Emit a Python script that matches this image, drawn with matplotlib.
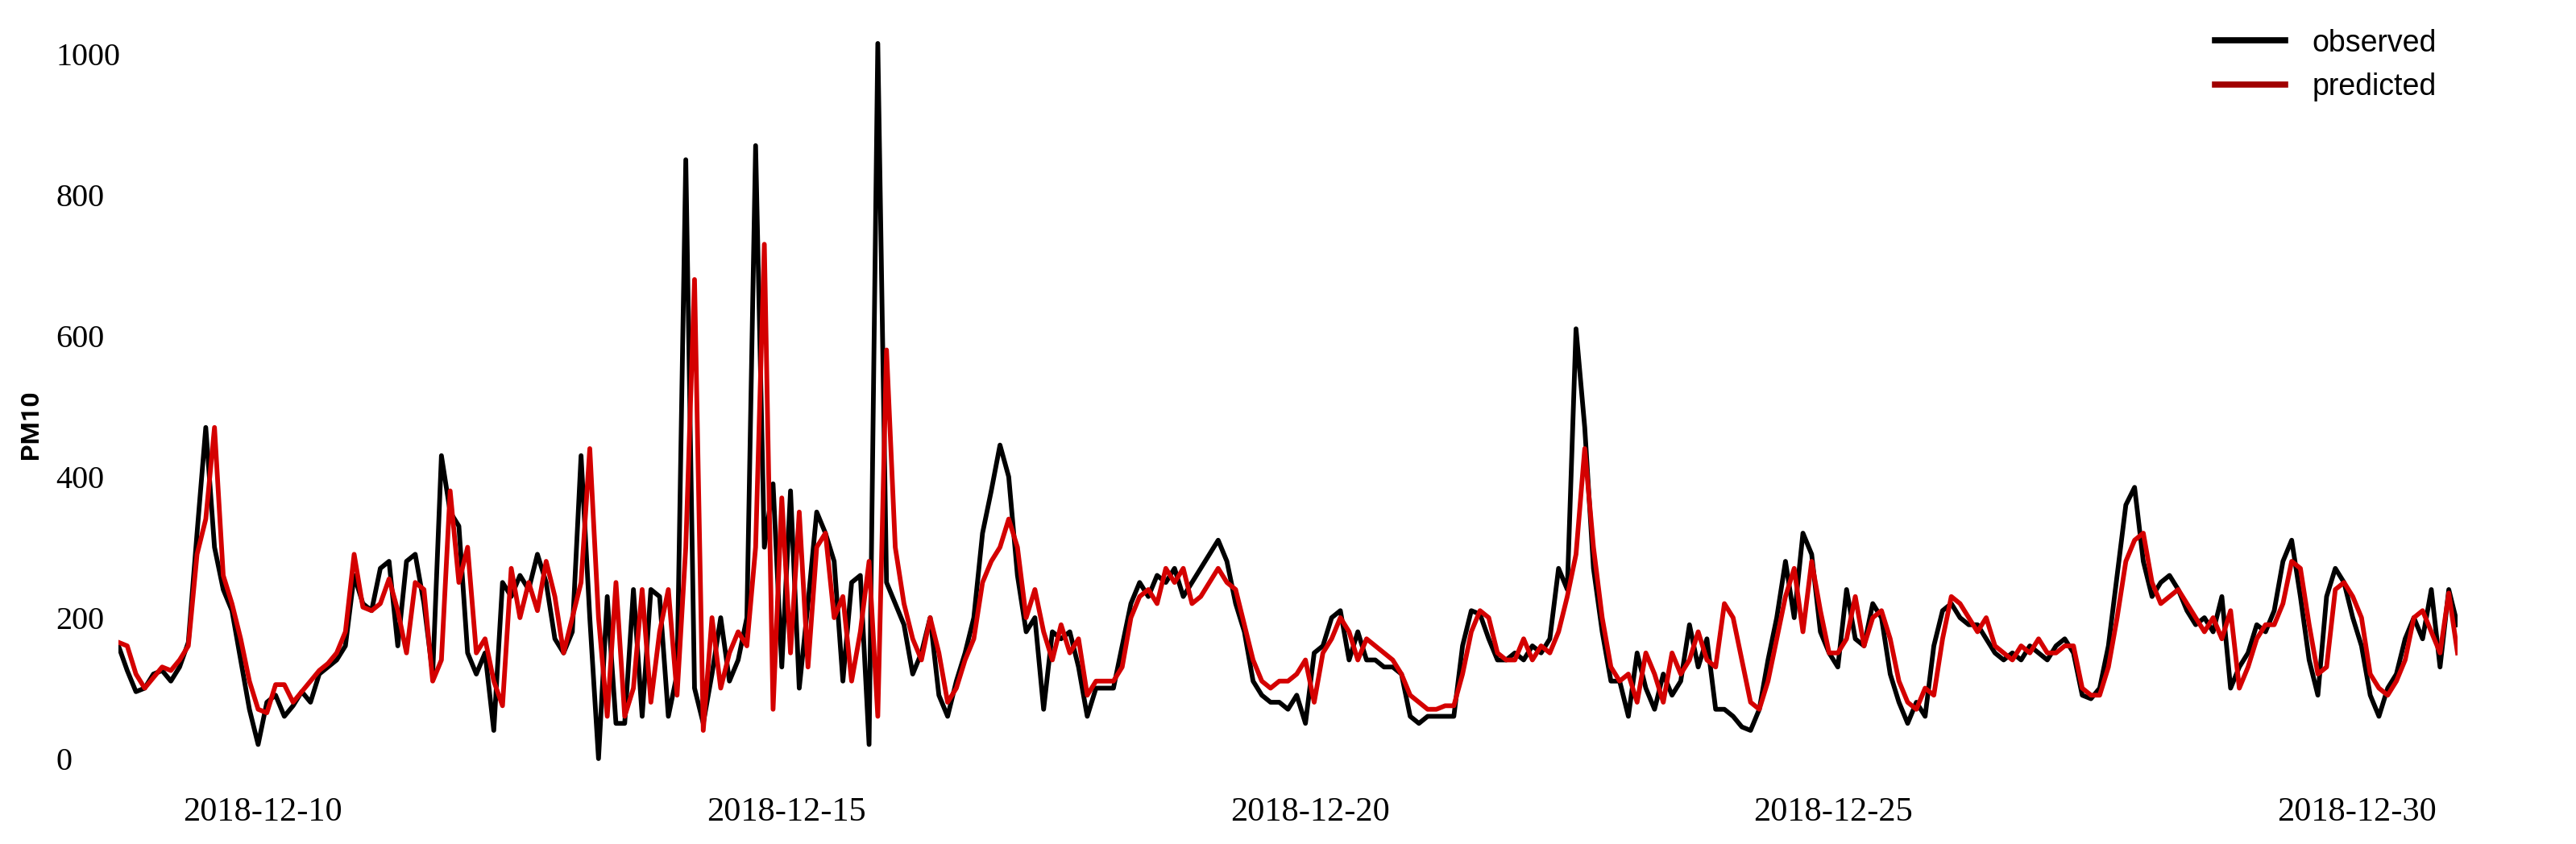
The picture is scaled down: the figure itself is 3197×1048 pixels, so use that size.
import matplotlib
matplotlib.use("Agg")
import matplotlib.pyplot as plt
import matplotlib.dates as mdates
import pandas as pd

start_time = "2018-12-08 15:00"
step = "2h"

observed = [
    160, 125, 95, 100, 120,
    125, 110, 130, 165, 320, 470, 300, 240, 210, 140, 70, 20,
    80, 90, 60, 75, 95, 80, 120, 130, 140, 160, 260, 220,
    210, 270, 280, 160, 280, 290, 220, 120, 430, 350, 330, 150,
    120, 150, 40, 250, 230, 260, 240, 290, 250, 170, 150, 180,
    430, 200, 0, 230, 50, 50, 240, 60, 240, 230, 60, 120,
    850, 100, 50, 120, 200, 110, 140, 200, 870, 300, 390, 130,
    380, 100, 220, 350, 320, 280, 110, 250, 260, 20, 1015, 250,
    220, 190, 120, 150, 200, 90, 60, 110, 150, 200, 320, 380,
    445, 400, 260, 180, 200, 70, 180, 170, 180, 130, 60, 100,
    100, 100, 160, 220, 250, 230, 260, 250, 270, 230, 250, 270,
    290, 310, 280, 220, 180, 110, 90, 80, 80, 70, 90, 50,
    150, 160, 200, 210, 140, 180, 140, 140, 130, 130, 120, 60,
    50, 60, 60, 60, 60, 160, 210, 205, 170, 140, 140, 150,
    140, 160, 150, 170, 270, 240, 610, 470, 270, 180, 110, 110,
    60, 150, 100, 70, 120, 90, 110, 190, 130, 170, 70, 70,
    60, 45, 40, 70, 140, 200, 280, 200, 320, 290, 180, 150,
    130, 240, 170, 160, 220, 200, 120, 80, 50, 80, 60, 160,
    210, 220, 200, 190, 190, 170, 150, 140, 150, 140, 160, 150,
    140, 160, 170, 150, 90, 85, 100, 160, 260, 360, 385, 280,
    230, 250, 260, 240, 210, 190, 200, 180, 230, 100, 130, 150,
    190, 180, 210, 280, 310, 230, 140, 90, 230, 270, 250, 200,
    160, 90, 60, 100, 120, 170, 200, 170, 240, 130, 240, 190,
]

predicted = [
    165, 160, 120, 100, 115,
    130, 125, 140, 160, 290, 340, 470, 260, 220, 170, 110, 70,
    65, 105, 105, 80, 95, 110, 125, 135, 150, 180, 290, 215,
    210, 220, 255, 210, 150, 250, 240, 110, 140, 380, 250, 300,
    150, 170, 110, 75, 270, 200, 250, 210, 280, 230, 150, 200,
    250, 440, 200, 60, 250, 60, 100, 240, 80, 180, 240, 90,
    300, 680, 40, 200, 100, 150, 180, 160, 300, 730, 70, 370,
    150, 350, 130, 300, 320, 200, 230, 110, 180, 280, 60, 580,
    300, 220, 170, 140, 200, 150, 80, 100, 140, 170, 250, 280,
    300, 340, 300, 200, 240, 180, 140, 190, 150, 170, 90, 110,
    110, 110, 130, 200, 230, 240, 220, 270, 250, 270, 220, 230,
    250, 270, 250, 240, 190, 140, 110, 100, 110, 110, 120, 140,
    80, 150, 170, 200, 180, 140, 170, 160, 150, 140, 120, 90,
    80, 70, 70, 75, 75, 120, 180, 210, 200, 150, 140, 140,
    170, 140, 160, 150, 180, 230, 290, 440, 300, 200, 130, 110,
    120, 80, 150, 120, 80, 150, 120, 140, 180, 140, 130, 220,
    200, 140, 80, 70, 110, 170, 230, 270, 180, 280, 210, 150,
    150, 170, 230, 160, 200, 210, 170, 110, 80, 70, 100, 90,
    170, 230, 220, 200, 180, 200, 160, 150, 140, 160, 150, 170,
    150, 150, 160, 160, 100, 90, 90, 130, 200, 280, 310, 320,
    250, 220, 230, 240, 220, 200, 180, 200, 170, 210, 100, 130,
    170, 190, 190, 220, 280, 270, 190, 120, 130, 240, 250, 230,
    200, 120, 100, 90, 110, 140, 200, 210, 180, 150, 235, 150,
]

tick_days = [10, 15, 20, 25, 30]
y_ticks = [0, 200, 400, 600, 800, 1000]

times = pd.date_range(start=start_time, periods=len(observed), freq=step)

fig = plt.figure(figsize=(31.97, 10.48), dpi=100)
ax = fig.add_axes([0.046, 0.0586, 0.908, 0.9325])

ax.plot(times, observed, color="black", linewidth=4.2, label="observed")
ax.plot(times, predicted, color="#d40000", linewidth=4.2, label="predicted")

ax.set_xlim(times[0], times[-1])
ax.set_ylim(-51, 1066)
ax.set_yticks(y_ticks)
ax.xaxis.set_major_locator(mdates.DayLocator(bymonthday=tick_days))
ax.xaxis.set_major_formatter(mdates.DateFormatter("%Y-%m-%d"))

for s in ax.spines.values():
    s.set_visible(False)

ax.tick_params(axis="both", length=0)
ax.tick_params(axis="x", pad=2)
ax.tick_params(axis="y", pad=56)
for lab in ax.get_xticklabels():
    lab.set_fontfamily(["Liberation Serif", "DejaVu Serif"])
    lab.set_fontsize(30.5)
for lab in ax.get_yticklabels():
    lab.set_fontfamily(["Liberation Serif", "DejaVu Serif"])
    lab.set_fontsize(29)
    lab.set_horizontalalignment("left")

ax.set_ylabel("PM10", fontsize=23, fontweight="bold",
              family=["Roboto", "DejaVu Sans"])
ax.yaxis.set_label_coords(-0.0325, 0.47)

leg = ax.legend(loc="upper right", frameon=False,
                prop={"family": ["Liberation Sans", "DejaVu Sans"], "size": 27},
                handlelength=2.3, handletextpad=0.9, borderaxespad=0.3)
for line in leg.get_lines():
    line.set_linewidth(5.5)
leg.get_lines()[1].set_color("#a00000")

fig.savefig("out.png", dpi=100)
